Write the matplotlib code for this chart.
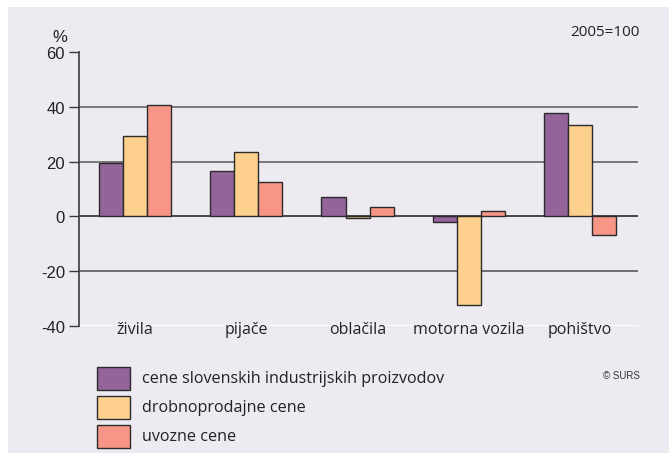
import numpy as np
import matplotlib
matplotlib.use("Agg")
import matplotlib.pyplot as plt
from matplotlib.patches import Rectangle

# Data (index changes, 2005=100)
categories = ["živila", "pijače", "oblačila", "motorna vozila", "pohištvo"]
industrial = [19.6, 16.6, 7.1, -2.0, 37.7]
retail = [29.3, 23.6, -0.7, -32.3, 33.3]
imports = [40.5, 12.7, 3.6, 1.9, -6.8]
series_labels = ["cene slovenskih industrijskih proizvodov",
                 "drobnoprodajne cene", "uvozne cene"]
yticks = [-40, -20, 0, 20, 40, 60]

COLORS = ["#93639A", "#FDD08D", "#F79686"]
BG = "#EEEAF1"
EDGE = "#2B2B2B"

W, H = 669, 456
fig = plt.figure(figsize=(W / 100, H / 100), dpi=100)
fig.patch.set_facecolor("white")
# lavender panel behind everything
fig.patches.append(Rectangle((8 / W, 2 / H), (W - 8) / W, (H - 10) / H,
                             transform=fig.transFigure, facecolor=BG,
                             edgecolor="none", zorder=-10))


def px(x, y):
    """pixel position (from top-left) -> figure fraction"""
    return x / W, 1 - y / H


left, right, top, bottom = 79, 638, 53, 327
ax = fig.add_axes([left / W, 1 - bottom / H, (right - left) / W,
                   (bottom - top) / H])
ax.set_facecolor("none")

x = np.arange(len(categories))
bw = 0.216
for i, (vals, col) in enumerate(zip([industrial, retail, imports], COLORS)):
    ax.bar(x + (i - 1) * bw, vals, width=bw, color=col, edgecolor=EDGE,
           linewidth=1.0, zorder=3)

# horizontal reference lines
for v, c, lw in [(40, "#6E6E6E", 1.3), (20, "#6E6E6E", 1.3),
                 (0, "#2B2B2B", 1.2), (-20, "#4A4A4A", 1.1),
                 (-40, "#FFFFFF", 1.4)]:
    ax.axhline(v, color=c, linewidth=lw, zorder=1)

ax.set_xlim(-0.503, 4.52)
ax.set_ylim(-40, 60)
for s in ["top", "right", "bottom"]:
    ax.spines[s].set_visible(False)
ax.spines["left"].set_color("#3A3A3A")
ax.spines["left"].set_linewidth(1.2)
ax.set_yticks(yticks)
ax.set_yticklabels([str(t) for t in yticks],
                   fontfamily=["Liberation Sans", "DejaVu Sans"], fontsize=12,
                   color="#222222")
ax.tick_params(axis="y", length=7, width=1.0, color="#3A3A3A", pad=3)
ax.set_xticks([])

for xi, name in zip(x, categories):
    ax.text(xi, -41.0, name, ha="center", va="center", fontsize=11.5,
            fontfamily=["Open Sans", "DejaVu Sans"], color="#222222",
            zorder=4)

fx, fy = px(60, 37)
fig.text(fx, fy, "%", ha="center", va="center", fontsize=12,
         fontfamily=["Liberation Sans", "DejaVu Sans"], color="#222222")
fx, fy = px(640, 32)
fig.text(fx, fy, "2005=100", ha="right", va="center", fontsize=11,
         fontfamily=["Open Sans", "DejaVu Sans"], color="#222222")
fx, fy = px(640, 376)
fig.text(fx, fy, "© SURS", ha="right", va="center", fontsize=7,
         fontfamily=["Liberation Sans", "DejaVu Sans"], color="#333333")

# legend drawn as boxes + labels
for k, (lab, col) in enumerate(zip(series_labels, COLORS)):
    y0 = 368 + k * 29
    fig.patches.append(Rectangle(px(97, y0 + 23), 33 / W, 23 / H,
                                 transform=fig.transFigure, facecolor=col,
                                 edgecolor=EDGE, linewidth=1.0))
    fx, fy = px(142, y0 + 11.5)
    fig.text(fx, fy, lab, ha="left", va="center", fontsize=11.6,
             fontfamily=["Open Sans", "DejaVu Sans"], color="#222222")

fig.savefig("out.png", dpi=100, facecolor=fig.get_facecolor())
